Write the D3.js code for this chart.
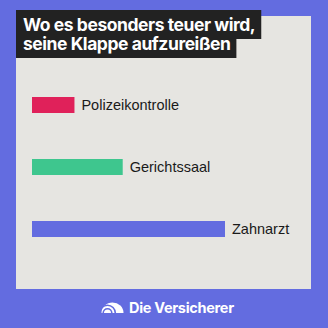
<!DOCTYPE html>
<html>
<head>
<meta charset="utf-8">
<script src="https://cdn.jsdelivr.net/npm/d3@7"></script>
<style>
  html, body { margin: 0; padding: 0; background: #636ce0; }
  svg { display: block; }
</style>
</head>
<body>
<div id="chart"></div>
<script>
let categories = ['Polizeikontrolle', 'Gerichtssaal', 'Zahnarzt']
let values = [22, 47, 100]
let colors = ['#e0215a', '#3ec68e', '#636ce0']
let titleLines = ['Wo es besonders teuer wird,', 'seine Klappe aufzureißen']
let brand = 'Die Versicherer'

let width = 328
let height = 328

let svg = d3
  .select('#chart')
  .append('svg')
  .attr('width', width)
  .attr('height', height)

svg.append('rect')
  .attr('width', width)
  .attr('height', height)
  .attr('fill', '#636ce0')

// light panel
svg.append('rect')
  .attr('x', 16)
  .attr('y', 16)
  .attr('width', 295)
  .attr('height', 273)
  .attr('fill', '#e6e5e1')

// title with dark boxes behind each line
let title = svg.append('g').attr('class', 'title')
title.selectAll('text')
  .data(titleLines)
  .enter()
  .append('text')
  .attr('x', 23)
  .attr('y', (d, i) => 31 + i * 19)
  .attr('fill', '#ffffff')
  .style('font-family', 'Inter, sans-serif')
  .style('font-weight', 700)
  .style('font-size', '17.5px')
  .style('letter-spacing', '-0.45px')
  .text(d => d)
  .each(function(d, i) {
    let w = this.getComputedTextLength()
    title.insert('rect', 'text')
      .attr('x', 16)
      .attr('y', i === 0 ? 10 : 39)
      .attr('width', w + 13)
      .attr('height', i === 0 ? 29 : 19)
      .attr('fill', '#222222')
  })

let xPositionScale = d3.scaleLinear().domain([0, 100]).range([32, 225])
let yPositionScale = d3.scalePoint().domain(categories).range([105, 229])
let colorScale = d3.scaleOrdinal().domain(categories).range(colors)

let data = categories.map((c, i) => ({ name: c, value: values[i] }))

let bars = svg.selectAll('.bar')
  .data(data)
  .enter()
  .append('g')
  .attr('class', 'bar')

bars.append('rect')
  .attr('x', xPositionScale(0))
  .attr('y', d => yPositionScale(d.name) - 8)
  .attr('width', d => xPositionScale(d.value) - xPositionScale(0))
  .attr('height', 16)
  .attr('fill', d => colorScale(d.name))

bars.append('text')
  .attr('x', d => xPositionScale(d.value) + 7)
  .attr('y', d => yPositionScale(d.name) + 5)
  .attr('fill', '#1a1a1a')
  .style('font-family', '"Liberation Sans", Arial, sans-serif')
  .style('font-size', '14.5px')
  .text(d => d.name)

// footer logo: solid dome with two curved gaps
let arc = d3.arc()
svg.append('path')
  .attr('transform', 'translate(112.5,313) scale(1.05,1)')
  .attr('d', arc({ innerRadius: 0, outerRadius: 10.5, startAngle: -Math.PI / 2, endAngle: Math.PI / 2 }))
  .attr('fill', '#ffffff')
let gaps = svg.append('g').attr('transform', 'translate(107.5,313)')
gaps.selectAll('path')
  .data([[7, 8.6], [3.5, 5.1]])
  .enter()
  .append('path')
  .attr('d', d => arc({ innerRadius: d[0], outerRadius: d[1], startAngle: -Math.PI / 2, endAngle: Math.PI / 2 }))
  .attr('fill', '#636ce0')

svg.append('text')
  .attr('x', 129)
  .attr('y', 313)
  .attr('fill', '#ffffff')
  .style('font-family', 'Inter, sans-serif')
  .style('font-weight', 700)
  .style('font-size', '14.5px')
  .style('letter-spacing', '-0.3px')
  .text(brand)
</script>
</body>
</html>
